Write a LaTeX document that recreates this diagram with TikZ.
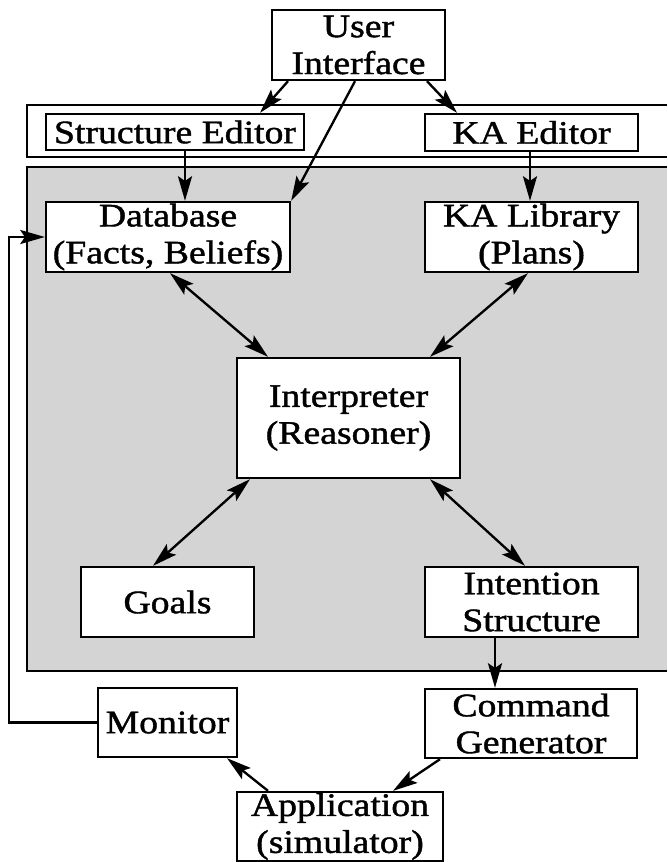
\documentclass[tikz,border=0pt]{standalone}
\usepackage{fontspec}
\setmainfont{Liberation Serif}[FakeStretch=1.15, FakeBold=1.3]
\usetikzlibrary{arrows.meta}

\begin{document}
\begin{tikzpicture}[x=0.03cm, y=-0.03cm, line width=2pt,
        box/.style={draw, fill=white, align=center, inner sep=0pt,
            font=\fontsize{28}{31.5}\selectfont},
        arw/.style={-{Stealth[length=21pt,width=12pt,inset=4pt]}},
        darw/.style={{Stealth[length=21pt,width=12pt,inset=4pt]}-{Stealth[length=21pt,width=12pt,inset=4pt]}}]
        \useasboundingbox (0,0) rectangle (667,862);

        % editor strip and shaded kernel
        \draw (667,105) -- (27,105) -- (27,157) -- (667,157);
        \fill [black!17] (27,167) rectangle (667,671);
        \draw (667,167) -- (27,167) -- (27,671) -- (667,671);

        \node[box, minimum width=5.19cm, minimum height=2.1cm] (ui) at (358.5,45) {User\\Interface};

        \node[box, minimum width=7.74cm, minimum height=1.08cm] (sed) at (175,132) {Structure Editor};
        \node[box, minimum width=6.39cm, minimum height=1.11cm] (kaed) at (531.5,132.5) {KA Editor};

        \node[box, minimum width=7.32cm, minimum height=2.1cm] (db) at (168,237) {Database\\(Facts, Beliefs)};
        \node[box, minimum width=6.39cm, minimum height=2.1cm] (kalib) at (531.5,237) {KA Library\\(Plans)};

        \node[box, minimum width=6.69cm, minimum height=3.6cm] (interp) at (348.5,418) {Interpreter\\(Reasoner)};

        \node[box, minimum width=5.19cm, minimum height=2.1cm] (goals) at (167.5,602) {Goals};
        \node[box, minimum width=6.39cm, minimum height=2.1cm] (intent) at (531.5,602) {Intention\\Structure};

        \node[box, minimum width=4.17cm, minimum height=2.07cm] (mon) at (167.5,722.5) {Monitor};
        \node[box, minimum width=6.36cm, minimum height=2.07cm] (cmdgen) at (531,723.5) {Command\\Generator};

        \node[box, minimum width=6.18cm, minimum height=2.07cm] (app) at (340,826.5) {Application\\(simulator)};

        \path [arw] (ui.south -| 288,0) edge (sed.north -| 260,0);
        \path [arw] (ui.south -| 355,0) edge (db.north east);
        \path [arw] (ui.south -| 427,0) edge (kaed.north -| 457,0);

        \path [arw] (sed.south -| 185,0) edge (db.north -| 185,0);
        \path [arw] (kaed.south -| 530,0) edge (kalib.north -| 530,0);

        \path [darw] (db.south -| 170,0) edge (interp.north -| 268,0);
        \path [darw] (kalib.south -| 528,0) edge (interp.north -| 430,0);
        \path [darw] (interp.south -| 250,0) edge (goals.north -| 153,0);
        \path [darw] (interp.south -| 430,0) edge (intent.north -| 525,0);

        \path [arw] (intent.south -| 495,0) edge (cmdgen.north -| 495,0);
        \path [arw] (cmdgen.south -| 440,0) edge (app.north -| 393,0);
        \path [arw] (app.north -| 268,0) edge (mon.south -| 227,0);

        \draw [arw] (mon.west) -- (mon.west -| 9,0) |- (db.west);
    \end{tikzpicture}
\end{document}
